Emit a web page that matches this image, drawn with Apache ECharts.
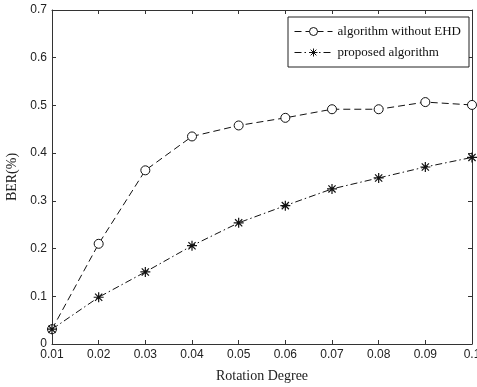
<!DOCTYPE html>
<html>
<head>
<meta charset="utf-8">
<script src="https://cdn.jsdelivr.net/npm/echarts@6/dist/echarts.min.js"></script>
<style>
  html, body { margin: 0; padding: 0; background: #fff; }
  #chart { width: 477px; height: 387px; }
</style>
</head>
<body>
<div id="chart"></div>
<script>
const rotation = [0.01, 0.02, 0.03, 0.04, 0.05, 0.06, 0.07, 0.08, 0.09, 0.1]
const berWithoutEHD = [0.031, 0.21, 0.364, 0.435, 0.458, 0.474, 0.492, 0.492, 0.507, 0.501]
const berProposed = [0.031, 0.098, 0.151, 0.206, 0.254, 0.29, 0.325, 0.348, 0.371, 0.391]
const seriesNames = ['algorithm without EHD', 'proposed algorithm']

const fmt = v => String(+v.toFixed(2))
const starPath = 'path://M0,-5L0,5M-5,0L5,0M-3.6,-3.6L3.6,3.6M-3.6,3.6L3.6,-3.6'
const axisColor = '#333'
const sans = 'Liberation Sans'
const serif = 'Liberation Serif'

const chart = echarts.init(document.getElementById('chart'))

const baseAxis = {
    axisLine: { show: true, onZero: false, lineStyle: { color: axisColor, width: 1 } },
    axisTick: { show: true, inside: true, length: 4, lineStyle: { color: axisColor } },
    splitLine: { show: false }
}

chart.setOption({
    animation: false,
    backgroundColor: '#fff',
    grid: { left: 52, right: 5, top: 10, bottom: 43, outerBoundsMode: 'none', containLabel: false },
    legend: {
        right: 8,
        top: 17,
        orient: 'vertical',
        backgroundColor: '#fff',
        borderColor: '#222',
        borderWidth: 1,
        padding: [8, 8, 8, 6],
        itemGap: 8,
        itemWidth: 38,
        itemHeight: 10,
        textStyle: { fontFamily: serif, fontSize: 13, color: '#111' },
        lineStyle: { width: 1 },
        itemStyle: { borderWidth: 1 },
        data: seriesNames
    },
    xAxis: [
        Object.assign({}, baseAxis, {
            type: 'value',
            min: 0.01,
            max: 0.1,
            interval: 0.01,
            name: 'Rotation Degree',
            nameLocation: 'middle',
            nameGap: 25,
            nameTextStyle: { fontFamily: serif, fontSize: 14, color: '#222' },
            axisLabel: { fontFamily: sans, fontSize: 12, color: '#222', margin: 5, formatter: fmt }
        }),
        Object.assign({}, baseAxis, {
            type: 'value',
            position: 'top',
            min: 0.01,
            max: 0.1,
            interval: 0.01,
            axisLabel: { show: false }
        })
    ],
    yAxis: [
        Object.assign({}, baseAxis, {
            type: 'value',
            min: 0,
            max: 0.7,
            interval: 0.1,
            name: 'BER(%)',
            nameLocation: 'middle',
            nameGap: 33,
            nameTextStyle: { fontFamily: serif, fontSize: 14, color: '#222' },
            axisLabel: { fontFamily: sans, fontSize: 12, color: '#222', margin: 5, formatter: fmt }
        }),
        Object.assign({}, baseAxis, {
            type: 'value',
            position: 'right',
            min: 0,
            max: 0.7,
            interval: 0.1,
            axisLabel: { show: false }
        })
    ],
    series: [
        {
            name: seriesNames[0],
            type: 'line',
            data: rotation.map((x, i) => [x, berWithoutEHD[i]]),
            symbol: 'circle',
            symbolSize: 9,
            showAllSymbol: true,
            itemStyle: { color: '#fff', borderColor: '#111', borderWidth: 1 },
            lineStyle: { color: '#111', width: 1, type: [7, 4] }
        },
        {
            name: seriesNames[1],
            type: 'line',
            data: rotation.map((x, i) => [x, berProposed[i]]),
            symbol: starPath,
            symbolSize: 10,
            showAllSymbol: true,
            itemStyle: { color: 'rgba(0,0,0,0)', borderColor: '#111', borderWidth: 1.2 },
            lineStyle: { color: '#111', width: 1, type: [7, 3, 1.5, 3] }
        }
    ]
})
</script>
</body>
</html>
